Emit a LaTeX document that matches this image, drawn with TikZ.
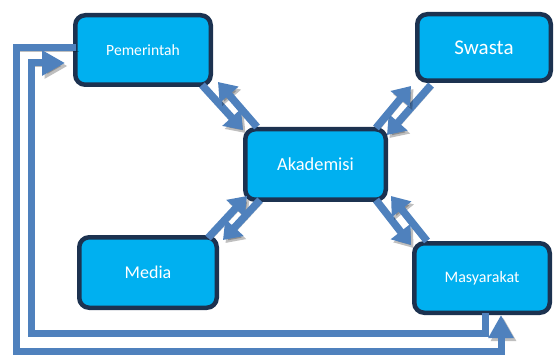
\documentclass[tikz,border=0pt]{standalone}
\usepackage{fontspec}
\setmainfont{Carlito}
\usetikzlibrary{arrows.meta,calc}
\definecolor{boxfill}{HTML}{00B0F0}
\definecolor{boxline}{HTML}{1C3250}
\definecolor{arr}{HTML}{4F81BD}
\tikzset{
  actor/.style={draw=boxline, fill=boxfill, line width=4.5pt, rounded corners=10pt,
    inner sep=0pt, text=white, align=center},
  shade/.style={preaction={draw=black, opacity=0.25, transform canvas={shift={(2.5pt,-3pt)}}}},
  link/.style={draw=arr, line width=7.5pt, shade, -{Triangle[length=17pt,width=24pt]}},
  loop/.style={draw=arr, line width=7pt, shade, line join=miter},
  looptip/.style={-{Triangle[length=23pt,width=24pt]}}
}
\begin{document}
\begin{tikzpicture}[x=1pt,y=-1pt]
\useasboundingbox (0,0) rectangle (554,358);
% boxes
\node[actor, minimum width=135.5pt, minimum height=69.5pt, font=\fontsize{15.6}{18}\selectfont] (P) at (143,50) {Pemerintah};
\node[actor, minimum width=133.5pt, minimum height=66.5pt, font=\fontsize{21}{24}\selectfont] (S) at (484,47.5) {Swasta};
\node[actor, minimum width=140.5pt, minimum height=70.5pt, font=\fontsize{18.4}{21}\selectfont] (A) at (315.5,164.5) {Akademisi};
\node[actor, minimum width=137.5pt, minimum height=70.5pt, font=\fontsize{18}{21}\selectfont] (M) at (148,272.5) {Media};
\node[actor, minimum width=135.5pt, minimum height=69.5pt, font=\fontsize{16}{19}\selectfont] (Ms) at (482,278) {Masyarakat};
% diagonal double arrows
\draw[link] ($(P.south east)+(-11,-2)$) -- ($(A.north west)+(0,3)$);
\draw[link] ($(A.north west)+(14,0)$) -- ($(P.south east)+(5,-5)$);
\draw[link] ($(S.south west)+(16,2)$) -- ($(A.north east)+(-1,8)$);
\draw[link] ($(A.north east)+(-12,1)$) -- ($(S.south west)+(-4,3)$);
\draw[link] ($(M.north east)+(-11,3)$) -- ($(A.south west)+(4,-6)$);
\draw[link] ($(A.south west)+(17,-2)$) -- ($(M.north east)+(4,5)$);
\draw[link] ($(A.south east)+(-12,-2)$) -- ($(Ms.north west)+(-1,4)$);
\draw[link] ($(Ms.north west)+(15,0)$) -- ($(A.south east)+(3,-6)$);
% outer loop: Pemerintah -> Masyarakat
\coordinate (o1) at (16,48);
\coordinate (o2) at (16,351);
\coordinate (o3) at (501,351);
\draw[loop, looptip] ($(P.west)+(3,-2)$) -- (o1) -- (o2) -- (o3) -- ($(Ms.south)+(19,0)$);
% inner loop: Masyarakat -> Pemerintah
\coordinate (i1) at (485,333);
\coordinate (i2) at (31,333);
\coordinate (i3) at (31,63);
\draw[loop, looptip] ($(Ms.south)+(3,-2)$) -- (i1) -- (i2) -- (i3) -- ($(P.west)+(-8,13)$);
\end{tikzpicture}
\end{document}
